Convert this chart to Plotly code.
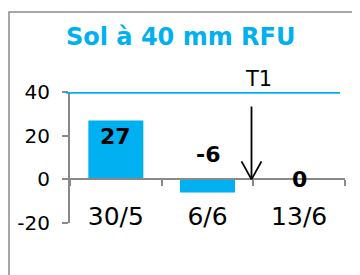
import plotly.graph_objects as go

categories = ["30/5", "6/6", "13/6"]
values = [27, -6, 0]
label_texts = ["27", "-6", "0"]
ytick_vals = [-20, 0, 20, 40]
ytick_text = ["-20", "0", "20", "40"]
rfu_level = 40
title_text = "Sol à 40 mm RFU"
marker_text = "T1"

BLUE = "#00B0F0"
GRAY = "#898989"
FONT = "DejaVu Sans"

# page has an 8px body margin; figure coordinates are offset accordingly
OFF = 8
W, H = 360 - OFF, 275 - OFF
L, R, T, B = 70 - OFF, 15, 92 - OFF, 52
pw, ph = W - L - R, H - T - B

fig = go.Figure()
fig.add_trace(go.Bar(
    x=categories, y=values, width=0.6,
    marker=dict(color=BLUE, line=dict(width=0)),
    hoverinfo="skip", showlegend=False,
))

anns = []
for i, (v, t) in enumerate(zip(values, label_texts)):
    if v > 0:
        a = dict(x=i, y=v, text=t, showarrow=False, yanchor="top", yshift=-2)
    elif v < 0:
        a = dict(x=i, y=0, text=t, showarrow=False, yanchor="bottom", yshift=10)
    else:
        a = dict(x=i, y=0, text=t, showarrow=False, yanchor="middle", yshift=0)
    a.update(xref="x", yref="y", font=dict(family=FONT, size=22, color="black", weight="bold"))
    anns.append(a)

anns.append(dict(x=1.48, y=0, ax=1.48, ay=34, xref="x", yref="y", axref="x", ayref="y",
                 showarrow=True, arrowhead=0, arrowwidth=1.8, arrowcolor="black", text=""))
anns.append(dict(x=1.5, y=rfu_level, xref="x", yref="y", text=marker_text, showarrow=False,
                 yanchor="bottom", xshift=5, yshift=-1,
                 font=dict(family=FONT, size=21, color="black")))
anns.append(dict(x=(180 - OFF - L) / pw, y=(H - B - (37 - OFF)) / ph, xref="paper", yref="paper",
                 text=title_text, showarrow=False, yanchor="middle",
                 font=dict(family=FONT, size=24, color=BLUE, weight="bold")))

shapes = [
    dict(type="rect", xref="paper", yref="paper",
         x0=(9 - OFF - L) / pw, x1=1.3, y0=-1.0, y1=(H - B - (12 - OFF)) / ph,
         line=dict(color=GRAY, width=1.5), fillcolor="rgba(0,0,0,0)", layer="below"),
    dict(type="line", xref="paper", yref="y", x0=(66 - 70) / pw, x1=(340 - 70) / pw,
         y0=rfu_level, y1=rfu_level, line=dict(color=BLUE, width=3.6)),
    dict(type="line", xref="x", yref="y", xsizemode="pixel", ysizemode="pixel",
         xanchor=1.48, yanchor=0, x0=-10, x1=0, y0=18, y1=0, line=dict(color="black", width=1.8)),
    dict(type="line", xref="x", yref="y", xsizemode="pixel", ysizemode="pixel",
         xanchor=1.48, yanchor=0, x0=10, x1=0, y0=18, y1=0, line=dict(color="black", width=1.8)),
]

fig.update_layout(
    annotations=anns, shapes=shapes,
    width=W, height=H,
    margin=dict(l=L, r=R, t=T, b=B, pad=0),
    paper_bgcolor="white", plot_bgcolor="white",
    font=dict(family=FONT, color="black"),
    xaxis=dict(
        type="category", range=[-0.5, 2.5], anchor="free", position=1 / 3, automargin=False,
        showline=True, linecolor=GRAY, linewidth=2,
        ticks="outside", ticklen=6, tickcolor=GRAY, tickwidth=2, tickson="boundaries",
        showgrid=False, zeroline=False, ticklabelstandoff=15,
        tickfont=dict(family=FONT, size=25, color="black"),
    ),
    yaxis=dict(
        range=[-20, 40], tickmode="array", tickvals=ytick_vals, ticktext=ytick_text,
        automargin=False,
        showline=True, linecolor=GRAY, linewidth=2,
        ticks="outside", ticklen=6, tickcolor=GRAY, tickwidth=2,
        showgrid=False, zeroline=False, ticklabelstandoff=8,
        tickfont=dict(family=FONT, size=20, color="black"),
    ),
)

fig.write_html("out.html")
